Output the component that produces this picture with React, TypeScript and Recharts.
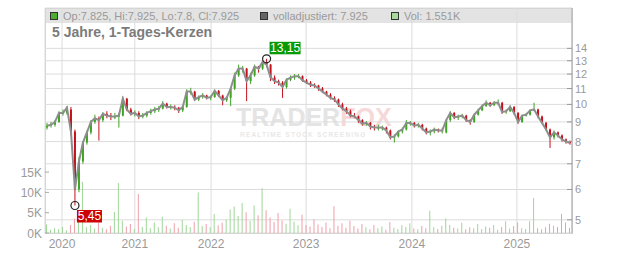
import React from 'react';
import { ComposedChart, Bar, Line, XAxis, YAxis, CartesianGrid, ReferenceDot, Cell } from 'recharts';

// one candle every ~4px of the original chart: [open, high, low, close]
const candles: [number, number, number, number][] = [
  [8.7, 8.95, 8.6, 8.8], [8.8, 9.0, 8.7, 8.85], [8.85, 9.1, 8.75, 9.0], [9.0, 9.6, 8.95, 9.5],
  [9.5, 9.7, 9.35, 9.5], [9.5, 9.9, 9.4, 9.8], [9.7, 9.85, 8.3, 8.5], [8.5, 8.6, 5.45, 6.0],
  [6.0, 7.3, 5.9, 7.1], [7.1, 8.0, 7.0, 7.95], [7.95, 8.55, 7.85, 8.45], [8.45, 9.1, 8.35, 9.0],
  [9.0, 9.4, 8.9, 9.2], [9.2, 9.3, 8.05, 9.1], [9.1, 9.55, 9.0, 9.45], [9.45, 9.6, 9.2, 9.35],
  [9.35, 9.5, 9.1, 9.3], [9.3, 9.5, 9.15, 9.3], [9.3, 9.5, 8.7, 9.35], [9.35, 10.5, 9.3, 10.35],
  [10.35, 10.4, 9.6, 9.7], [9.7, 9.8, 9.35, 9.45], [9.45, 9.65, 9.3, 9.5], [9.5, 9.6, 9.15, 9.3],
  [9.3, 9.5, 9.2, 9.35], [9.35, 9.6, 9.25, 9.5], [9.5, 9.75, 9.4, 9.6], [9.6, 9.85, 9.5, 9.7],
  [9.7, 9.9, 9.55, 9.75], [9.75, 10.2, 9.7, 10.05], [10.05, 10.1, 9.75, 9.85], [9.85, 10.0, 9.7, 9.85],
  [9.85, 9.95, 9.65, 9.8], [9.8, 9.85, 9.5, 9.65], [9.65, 9.95, 9.55, 9.85], [9.85, 10.95, 9.8, 10.8],
  [10.8, 11.05, 10.6, 10.8], [10.8, 10.85, 10.2, 10.3], [10.3, 10.55, 10.2, 10.45], [10.45, 10.7, 10.35, 10.55],
  [10.55, 10.6, 10.3, 10.4], [10.4, 10.55, 10.25, 10.45], [10.45, 10.95, 10.4, 10.85], [10.85, 10.9, 10.45, 10.55],
  [10.55, 10.6, 9.95, 10.25], [10.25, 10.5, 10.15, 10.4], [10.4, 11.1, 9.9, 11.0], [11.0, 12.1, 10.9, 11.9],
  [11.9, 12.7, 11.8, 12.4], [12.4, 12.6, 12.1, 12.4], [12.4, 12.45, 10.2, 11.5], [11.5, 12.1, 11.3, 11.9],
  [11.9, 12.7, 11.8, 12.55], [12.55, 12.6, 12.1, 12.4], [12.4, 13.0, 12.3, 12.9], [12.9, 13.15, 12.5, 12.7],
  [12.7, 12.75, 11.5, 11.75], [11.75, 11.9, 11.3, 11.5], [11.5, 11.6, 11.2, 11.4], [11.4, 11.5, 10.4, 11.1],
  [11.1, 11.7, 11.0, 11.6], [11.6, 11.9, 11.5, 11.75], [11.75, 12.0, 11.6, 11.85], [11.85, 12.0, 11.7, 11.85],
  [11.85, 11.9, 11.45, 11.55], [11.55, 11.65, 11.3, 11.4], [11.4, 11.5, 11.1, 11.25], [11.25, 11.35, 11.05, 11.2],
  [11.2, 11.25, 10.85, 11.0], [11.0, 11.1, 10.7, 10.8], [10.8, 10.85, 10.5, 10.6], [10.6, 10.7, 10.3, 10.4],
  [10.4, 10.5, 10.15, 10.3], [10.3, 10.35, 9.85, 10.0], [10.0, 10.1, 9.65, 9.75], [9.75, 9.85, 9.45, 9.6],
  [9.6, 9.7, 9.25, 9.35], [9.35, 9.5, 9.2, 9.3], [9.3, 9.35, 8.95, 9.1], [9.1, 9.15, 8.8, 8.9],
  [8.9, 9.05, 8.8, 8.95], [8.95, 9.0, 8.6, 8.75], [8.75, 8.85, 8.55, 8.7], [8.7, 8.85, 8.55, 8.7],
  [8.7, 8.8, 8.55, 8.7], [8.7, 8.75, 8.4, 8.55], [8.55, 8.6, 8.1, 8.2], [8.2, 8.35, 7.95, 8.25],
  [8.25, 8.55, 8.2, 8.5], [8.5, 8.7, 8.4, 8.6], [8.6, 9.1, 8.55, 8.95], [8.95, 9.05, 8.8, 8.95],
  [8.95, 9.0, 8.7, 8.8], [8.8, 8.95, 8.7, 8.85], [8.85, 8.9, 8.55, 8.65], [8.65, 8.7, 8.35, 8.45],
  [8.45, 8.6, 8.3, 8.5], [8.5, 8.7, 8.4, 8.6], [8.6, 8.65, 8.45, 8.55], [8.55, 8.7, 8.4, 8.55],
  [8.45, 9.15, 8.4, 9.1], [9.1, 9.6, 9.0, 9.5], [9.5, 9.55, 9.15, 9.25], [9.25, 9.4, 9.1, 9.3],
  [9.3, 9.45, 9.2, 9.35], [9.35, 9.4, 9.0, 9.1], [9.1, 9.15, 8.85, 9.0], [9.0, 9.45, 8.95, 9.4],
  [9.4, 9.75, 9.35, 9.65], [9.65, 10.0, 9.6, 9.9], [9.9, 10.25, 9.85, 10.1], [10.1, 10.15, 9.85, 9.95],
  [9.95, 10.2, 9.9, 10.1], [10.1, 10.3, 9.95, 10.1], [10.1, 10.15, 9.45, 9.55], [9.55, 9.7, 9.45, 9.6],
  [9.6, 9.95, 9.55, 9.85], [9.85, 9.9, 9.4, 9.5], [9.5, 9.55, 8.9, 9.0], [9.0, 9.4, 8.95, 9.35],
  [9.35, 9.5, 9.3, 9.4], [9.4, 9.7, 9.35, 9.65], [9.65, 10.1, 9.6, 9.7], [9.7, 9.75, 9.2, 9.3],
  [9.3, 9.35, 8.9, 8.95], [8.95, 9.0, 8.55, 8.6], [8.6, 8.65, 7.7, 8.2], [8.2, 8.55, 8.1, 8.45],
  [8.45, 8.5, 8.2, 8.3], [8.3, 8.35, 8.0, 8.1], [8.1, 8.15, 7.9, 8.0], [8.0, 8.05, 7.85, 7.93],
];

// volume in thousands, same order as candles
const volumes = [
  2.1, 0.8, 1.2, 0.9, 1.5, 0.7, 2.0, 3.5, 2.8, 12.6,
  1.4, 2.0, 1.1, 2.5, 1.3, 0.9, 1.8, 5.2, 12.3, 3.0,
  1.6, 2.2, 1.0, 9.6, 1.5, 3.8, 1.2, 2.6, 1.4, 4.0,
  1.8, 1.1, 2.4, 1.3, 3.2, 2.0, 1.5, 2.8, 10.0, 1.7,
  2.2, 1.4, 4.7, 1.9, 2.5, 3.3, 5.8, 6.5, 4.2, 7.4,
  5.1, 3.0, 6.8, 4.4, 11.0, 5.6, 3.8, 2.7, 4.9, 3.1,
  2.3, 6.0, 2.8, 1.9, 4.5, 2.0, 1.6, 3.4, 2.1, 1.5,
  2.6, 1.2, 6.6, 1.8, 2.4, 1.3, 3.0, 1.7, 1.1, 2.2,
  1.4, 0.9, 2.0, 1.2, 1.6, 0.8, 2.7, 1.3, 1.0, 1.9,
  1.5, 2.4, 1.1, 0.9, 1.7, 1.2, 5.5, 1.4, 1.0, 1.8,
  3.6, 2.0, 1.3, 1.1, 2.5, 0.9, 1.4, 1.2, 2.2, 1.0,
  1.6, 1.3, 2.0, 0.8, 1.5, 2.9, 1.1, 1.7, 2.6, 1.2,
  1.0, 2.9, 8.6, 1.2, 0.9, 1.4, 2.3, 1.8, 1.5, 4.7,
  2.6, 1.3,
];

const yearTicks = [4.26, 22.5, 41.6, 65.4, 91.9, 118.2];
const yearLabels = ['2020', '2021', '2022', '2023', '2024', '2025'];
const priceTicks = [5, 6, 7, 8, 9, 10, 11, 12, 13, 14];
const volumeTicks = [0, 5, 10, 15];

const extremes = [
  { x: 55.5, y: 13.15, label: '13,15', kind: 'high' },
  { x: 7.5, y: 5.45, label: '5,45', kind: 'low' },
];

const data = candles.map(([o, h, l, c], i) => ({ x: i + 0.5, o, h, l, c, vol: volumes[i] }));

const FONT = '"Liberation Sans", Arial, sans-serif';
const UP = '#3fa324';
const DOWN = '#c3121b';

const Candle = (props: any) => {
  const { x, y, width, height, payload } = props;
  const top = Math.min(y, y + height);
  const hgt = Math.abs(height);
  const { o, h, l, c } = payload;
  const span = Math.log(h) - Math.log(l) || 1;
  const yOf = (v: number) => top + (hgt * (Math.log(h) - Math.log(v))) / span;
  const color = c >= o ? UP : DOWN;
  const b1 = Math.min(yOf(o), yOf(c));
  const b2 = Math.max(yOf(o), yOf(c));
  const cx = x + width / 2;
  return (
    <g>
      <line x1={cx} x2={cx} y1={top} y2={top + hgt} stroke={color} strokeWidth={1} />
      <rect x={x} y={b1} width={width} height={Math.max(b2 - b1, 1)} fill={color} />
    </g>
  );
};

const Extreme = (props: any) => {
  const { cx, cy, kind, label } = props;
  const high = kind === 'high';
  const bx = high ? cx + 3 : cx + 2;
  const by = high ? cy - 17 : cy + 4.5;
  const bw = high ? 31 : 25;
  return (
    <g>
      <circle cx={cx} cy={cy} r={4} fill="none" stroke="#222" strokeWidth={1.2} />
      <rect x={bx} y={by} width={bw} height={12.5} fill={high ? '#079a07' : '#cc0000'} />
      <text x={bx + bw / 2} y={by + 10.5} textAnchor="middle" fontSize={12} fill="#fff" fontFamily={FONT}>
        {label}
      </text>
    </g>
  );
};

const RightTick = ({ x, y, payload }: any) => (
  <g>
    <line x1={x - 5} x2={x} y1={y} y2={y} stroke="#999" />
    <text x={x + 3} y={y + 4} fontSize={11} fill="#9a9a9a" fontFamily={FONT}>{payload.value}</text>
  </g>
);

const LeftTick = ({ x, y, payload }: any) => (
  <g>
    <line x1={x} x2={x + 4} y1={y} y2={y} stroke="#aaa" />
    <text x={x - 3} y={y + 4.5} textAnchor="end" fontSize={12} fill="#9a9a9a" fontFamily={FONT}>{`${payload.value}K`}</text>
  </g>
);

const YearTick = ({ x, y, payload }: any) => {
  const idx = yearTicks.indexOf(payload.value);
  return (
    <text x={x} y={y + 14.5} textAnchor="middle" fontSize={12} fill="#9a9a9a" fontFamily={FONT}>
      {yearLabels[idx] ?? ''}
    </text>
  );
};

const Swatch = ({ color }: { color: string }) => (
  <span style={{ display: 'inline-block', width: 6, height: 6, background: color, border: '1px solid #333', marginRight: 5, verticalAlign: 'middle', position: 'relative', top: -1 }} />
);

export default function App() {
  return (
    <div style={{ position: 'absolute', left: 0, top: 0, width: 632, height: 253, fontFamily: FONT }}>
      {/* background: frame, legend band, watermark */}
      <div style={{ position: 'absolute', left: 45, top: 8, width: 528, height: 226, border: '1px solid #cfcfcf', boxSizing: 'border-box' }} />
      <div style={{ position: 'absolute', left: 46, top: 9, width: 526, height: 14, background: '#e3e3e3' }} />
      <div style={{ position: 'absolute', left: 236, top: 105, width: 160, fontSize: 25, fontWeight: 'bold', lineHeight: '24px', whiteSpace: 'nowrap' }}>
        <span style={{ color: '#e4e4e4' }}>TRADER</span>
        <span style={{ color: '#f6d8d8' }}>FOX</span>
      </div>
      <div style={{ position: 'absolute', left: 240, top: 131, fontSize: 6.5, lineHeight: '8px', fontWeight: 'bold', letterSpacing: 1.2, color: '#e8e8e8', whiteSpace: 'nowrap' }}>
        REALTIME STOCK SCREENING
      </div>

      <div style={{ position: 'absolute', left: 0, top: 0 }}>
        <ComposedChart width={632} height={253} data={data} margin={{ top: 8, right: 0, bottom: 0, left: 0 }}>
          <CartesianGrid xAxisId="main" yAxisId="price" stroke="#dcdcdc" />
          <XAxis
            xAxisId="main"
            dataKey="x"
            type="number"
            domain={[0, candles.length]}
            ticks={yearTicks}
            tick={<YearTick />}
            tickLine={false}
            axisLine={false}
            tickSize={0}
            tickMargin={0}
            height={20}
            interval={0}
          />
          <XAxis xAxisId="vol" dataKey="x" type="number" domain={[0, candles.length]} hide />
          <YAxis
            yAxisId="vol"
            orientation="left"
            width={45}
            domain={[0, 55.4]}
            ticks={volumeTicks}
            tick={<LeftTick />}
            tickLine={false}
            axisLine={false}
            tickSize={0}
            tickMargin={0}
            interval={0}
          />
          <YAxis
            yAxisId="price"
            orientation="right"
            width={60}
            scale="log"
            domain={[4.62, 17.84]}
            allowDataOverflow
            ticks={priceTicks}
            tick={<RightTick />}
            tickLine={false}
            axisLine={{ stroke: '#aaa' }}
            tickSize={0}
            tickMargin={0}
            interval={0}
          />
          <Bar xAxisId="vol" yAxisId="vol" dataKey="vol" barSize={1} isAnimationActive={false}>
            {data.map((d, i) => (
              <Cell key={i} fill={d.c >= d.o ? '#9fd698' : '#f09ea8'} />
            ))}
          </Bar>
          <Line
            xAxisId="main"
            yAxisId="price"
            dataKey="c"
            stroke="#8e8e8e"
            strokeWidth={2}
            dot={false}
            isAnimationActive={false}
          />
          <Bar
            xAxisId="main"
            yAxisId="price"
            dataKey={(d: any) => [d.l, d.h]}
            barSize={2}
            shape={<Candle />}
            isAnimationActive={false}
          />
          {extremes.map((e) => (
            <ReferenceDot
              key={e.label}
              xAxisId="main"
              yAxisId="price"
              x={e.x}
              y={e.y}
              r={4}
              shape={(p: any) => <Extreme {...p} kind={e.kind} label={e.label} />}
            />
          ))}
        </ComposedChart>
      </div>

      {/* legend row and title */}
      <div style={{ position: 'absolute', left: 50, top: 9, height: 14, lineHeight: '14px', fontSize: 11, color: '#9a9a9a', whiteSpace: 'nowrap' }}>
        <Swatch color="#4cae2c" />Op:7.825, Hi:7.925, Lo:7.8, Cl:7.925
      </div>
      <div style={{ position: 'absolute', left: 260, top: 9, height: 14, lineHeight: '14px', fontSize: 11, color: '#9a9a9a', whiteSpace: 'nowrap' }}>
        <Swatch color="#666" />volladjustiert: 7.925
      </div>
      <div style={{ position: 'absolute', left: 391, top: 9, height: 14, lineHeight: '14px', fontSize: 11, color: '#9a9a9a', whiteSpace: 'nowrap' }}>
        <Swatch color="#a6d99c" />Vol: 1.551K
      </div>
      <div style={{ position: 'absolute', left: 52, top: 24, fontSize: 14, fontWeight: 'bold', color: '#7b7b7b', lineHeight: '16px', whiteSpace: 'nowrap' }}>
        5 Jahre, 1-Tages-Kerzen
      </div>
    </div>
  );
}
